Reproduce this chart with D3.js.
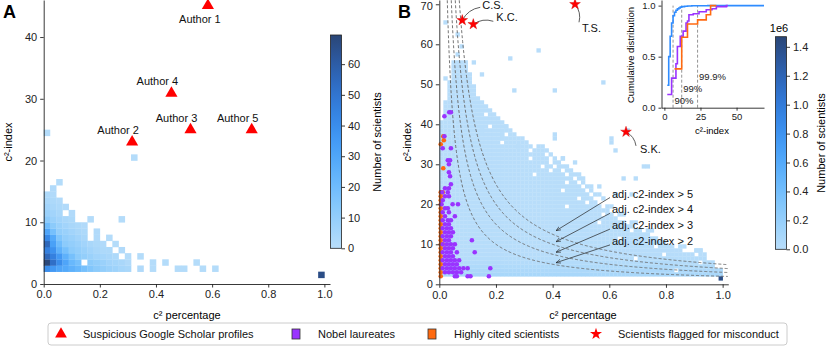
<!DOCTYPE html>
<html>
<head>
<meta charset="UTF-8">
<script src="https://cdn.jsdelivr.net/npm/d3@7"></script>
<style>
  body { margin: 0; background: #fff; }
  svg { font-family: "Liberation Sans", Arial, Helvetica, sans-serif; }
  .axis text { font-size: 11px; fill: #222; }
  .axis path, .axis line { stroke: #222; stroke-width: 0.9px; }
  .inset .axis text { font-size: 9.5px; }
</style>
</head>
<body>
<svg id="chart" width="831" height="348"></svg>
<script>
// ---------- data ----------
// panel A heatmap: [column (1/45 wide), c2-index row, count]
const cellsA = [
  [0,2,40],[0,3,68],[0,4,55],[0,5,45],[0,6,55],[0,7,42],[0,8,30],[0,9,20],[0,10,12],[0,11,8],[0,12,6],[0,13,4],[0,14,3],[0,24,1],
  [1,2,35],[1,3,52],[1,4,45],[1,5,38],[1,6,32],[1,7,28],[1,8,18],[1,9,12],[1,10,8],[1,11,6],[1,12,4],[1,13,3],[1,14,2],[1,15,2],
  [2,2,30],[2,3,40],[2,4,35],[2,5,25],[2,6,20],[2,7,15],[2,8,10],[2,9,8],[2,10,6],[2,11,4],[2,12,3],[2,13,2],[2,16,1],
  [3,2,28],[3,3,30],[3,4,25],[3,5,18],[3,6,12],[3,7,10],[3,8,8],[3,9,6],[3,10,4],[3,12,2],
  [4,2,25],[4,3,22],[4,4,18],[4,5,12],[4,6,10],[4,7,8],[4,8,6],[4,9,4],[4,10,3],[4,11,2],
  [5,2,22],[5,3,18],[5,4,12],[5,5,10],[5,6,8],[5,7,6],[5,8,4],[5,9,3],
  [6,2,18],[6,4,10],[6,5,8],[6,6,6],[6,7,4],[6,8,3],[6,9,2],
  [7,2,15],[7,3,12],[7,4,8],[7,5,6],[7,6,4],[7,10,1],
  [8,2,12],[8,3,10],[8,4,6],[8,5,4],[8,6,3],[8,7,2],[8,8,2],
  [9,2,10],[9,3,8],[9,4,5],[9,5,3],[9,6,2],
  [10,2,8],[10,3,6],[10,4,4],[10,5,3],[10,7,1],
  [11,2,7],[11,3,5],[11,4,3],[11,6,1],
  [12,2,5],[12,3,4],[12,5,2],[12,10,1],
  [13,2,4],[13,3,2],[13,4,1],
  [14,20,1],[15,2,2],[15,4,1],[17,2,1],[17,3,1],[19,3,1],[21,2,1],[22,2,1],[24,3,1],[25,2,1],[27,2,1],
  [44,1,66]
];
// suspicious Google Scholar profiles: [name, c2 percentage, c2-index]
const authors = [
  ["Author 1", 0.585, 45.1],
  ["Author 2", 0.315, 23.0],
  ["Author 3", 0.523, 25.0],
  ["Author 4", 0.455, 30.9],
  ["Author 5", 0.741, 25.0]
];

// panel B heatmap: runs of filled cells [c2-index row, first column, last column, count] (1/70 wide columns)
const runsB = [
  [2,0,69,9e4],[3,0,69,7e4],[4,0,67,5e4],[5,0,67,3e4],[6,0,65,2e4],[7,0,62,1e4],[7,64,65,2e3],
  [8,0,59,8e3],[8,63,64,1e3],[9,0,57,6e3],[9,59,60,1e3],[10,0,55,5e3],[11,0,53,4e3],[12,0,51,3e3],
  [13,0,49,3e3],[13,51,52,1e3],[14,0,47,2e3],[15,0,45,2e3],[15,47,48,1e3],[16,0,43,2e3],[17,0,42,2e3],
  [17,44,45,1e3],[18,0,41,2e3],[19,0,39,2e3],[19,41,42,1e3],[20,0,38,2e3],[21,0,37,2e3],[21,40,40,1e3],
  [22,0,36,1e3],[22,38,39,1e3],[23,0,35,1e3],[23,37,37,1e3],[24,0,34,1e3],[24,36,37,1e3],[25,0,33,1e3],
  [25,35,35,1e3],[26,0,32,1e3],[26,34,35,1e3],[27,0,30,1e3],[27,32,33,1e3],[28,0,29,1e3],[28,31,32,1e3],
  [29,0,27,1e3],[29,29,31,1e3],[29,50,51,1e3],[30,0,26,1e3],[30,28,29,1e3],[30,33,33,1e3],[31,0,26,1e3],
  [31,28,28,1e3],[31,30,30,1e3],[32,0,25,1e3],[32,27,27,1e3],[33,0,24,1e3],[33,25,26,1e3],[34,0,22,1e3],
  [34,24,25,1e3],[35,0,21,1e3],[36,0,20,1e3],[37,0,18,1e3],[38,0,17,1e3],[39,0,16,1e3],[40,0,15,1e3],
  [41,1,14,1e3],[42,1,13,1e3],[43,1,12,1e3],[44,1,11,1e3],[45,1,10,1e3],[46,2,9,1e3],[47,2,8,1e3],
  [48,2,8,1e3],[49,2,8,1e3],[50,2,7,1e3],[51,3,7,1e3],[52,3,7,1e3],[53,3,6,1e3],[54,3,6,1e3],[55,3,6,1e3],
  [1,69,69,1.4e6]
];
// isolated cells in panel B: [column, c2-index row]
const singlesB = [
  [1,65],[4,62],[5,59],[4,57],[8,55],[10,52],[1,51],[17,56],[24,58],[18,48],[28,48],[40,50],
  [10,38],[15,36],[15,37],[18,36],[19,34],[28,36],[28,37],[16,39],[42,36],[43,33],[42,35],[46,38],
  [30,31],[34,27],[39,24],[45,26],[48,26],[43,22],[47,22],[63,8],[64,8]
];
// empty cells inside the filled runs of panel B: [column, c2-index row]
const holesB = [
  [64,5],[58,3],[55,7],[48,6],[53,9],[44,11],[47,13],[39,15],[40,17],[31,19],[36,20],[34,21],
  [30,23],[31,25],[23,27],[27,28],[25,29],[22,31],[22,33],[15,35],[18,36],[16,37],[12,39],[11,42]
];
// Nobel laureates: [c2 percentage, c2-index]
const nobelPoints = [
  [0.035,43],[0.041,43],[0.018,42],[0.018,37],[0.012,34],[0.041,34],[0.03,31],[0.038,31],[0.034,30],
  [0.034,28],[0.038,27],[0.041,25],[0.02,24],[0.034,24],[0.01,23],[0.03,23],[0.02,22],[0.034,22],
  [0.012,21],[0.008,20],[0.047,20],[0.066,20],[0.02,19],[0.03,19],[0.012,18],[0.034,18],[0.02,17],
  [0.055,17],[0.012,16],[0.03,16],[0.041,16],[0.02,15],[0.034,15],[0.012,14],[0.027,14],[0.041,14],
  [0.02,13],[0.034,13],[0.048,13],[0.012,12],[0.027,12],[0.041,12],[0.02,11],[0.034,11],[0.115,11],
  [0.012,10],[0.027,10],[0.041,10],[0.055,10],[0.02,9],[0.034,9],[0.048,9],[0.012,8],[0.027,8],
  [0.041,8],[0.062,8],[0.125,8],[0.02,7],[0.034,7],[0.048,7],[0.012,6],[0.027,6],[0.041,6],[0.055,6],
  [0.07,6],[0.02,5],[0.034,5],[0.048,5],[0.062,5],[0.012,4],[0.027,4],[0.041,4],[0.055,4],[0.07,4],
  [0.085,4],[0.1,4],[0.18,4],[0.02,3],[0.034,3],[0.048,3],[0.062,3],[0.077,3],[0.055,2],[0.062,2],
  [0.1,2],[0.11,2],[0.175,2]
];
// highly cited scientists: [c2 percentage, c2-index]
const highlyCited = [
  [0.014,37],[0.016,36],[0.005,35],[0.014,29],[0.005,23],[0.012,23],[0.005,22],[0.005,21],[0.005,20],
  [0.005,19],[0.005,18],[0.005,17],[0.005,16],[0.005,15],[0.005,14],[0.005,13],[0.005,12],[0.005,11],
  [0.005,10],[0.012,10],[0.005,9],[0.005,8],[0.005,7],[0.005,6],[0.005,5],[0.005,4],[0.005,3],[0.005,2]
];
// flagged for misconduct: [initials, c2 percentage, c2-index]
const misconduct = [
  ["C.S.", 0.081, 66],
  ["K.C.", 0.12, 65],
  ["T.S.", 0.479, 70],
  ["S.K.", 0.659, 38.1]
];
// adjusted c2-index thresholds and where their arrows point
const adjThresholds = [5, 4, 3, 2];
const arrowX = 0.412;
const arrowY = [13.4, 10.65, 8, 5.4];

// inset: cumulative distributions [c2-index, share]
const cumAll = [[2,0.22],[3,0.5],[4,0.7],[5,0.83],[6,0.9],[7,0.935],[8,0.955],[9,0.968],[10,0.977],
  [11,0.985],[12,0.99],[14,0.994],[16,0.996],[19,0.998],[23,0.999],[30,1],[69,1]];
const cumNobel = [[2,0.13],[5,0.29],[8,0.43],[9,0.6],[11,0.7],[13,0.75],[15,0.83],[16,0.85],[17,0.91],
  [20,0.92],[24,0.94],[29,0.96],[33,0.97],[36,0.99],[43,1],[44,1]];
const cumCited = [[7,0.38],[12,0.69],[16,0.82],[23,0.86],[29,0.91],[32,1],[36,1]];
const percentiles = [6, 12, 23];
const percentileLabels = ["90%", "99%", "99.9%"];

const legendItems = ["Suspicious Google Scholar profiles", "Nobel laureates", "Highly cited scientists", "Scientists flagged for misconduct"];

// ---------- drawing ----------
const svg = d3.select("#chart");
svg.append("rect").attr("width", 831).attr("height", 348).attr("fill", "#fff");

const RED = "#ff0000", PURPLE = "#9a33ff", ORANGE = "#ff6a10", BLUE = "#2f8cff";
const cmap = d3.interpolateRgbBasis(["#b8ddfa", "#78c4fc", "#3c9bfc", "#2e6fd0", "#2a4676"]);

function axes(g, x, y, xticks, yticks, xfmt, yfmt, size) {
  g.append("g").attr("class", "axis").attr("transform", `translate(0,${y.range()[0]})`)
    .call(d3.axisBottom(x).tickValues(xticks).tickFormat(xfmt).tickSize(size).tickSizeOuter(0).tickPadding(3));
  g.append("g").attr("class", "axis").attr("transform", `translate(${x.range()[0]},0)`)
    .call(d3.axisLeft(y).tickValues(yticks).tickFormat(yfmt).tickSize(size).tickSizeOuter(0).tickPadding(3));
}

function colorbar(id, x0, y0, y1, domain, ticks, fmt) {
  const grad = svg.append("defs").append("linearGradient").attr("id", id)
    .attr("x1", 0).attr("x2", 0).attr("y1", 1).attr("y2", 0);
  d3.range(0, 1.001, 0.05).forEach(t => grad.append("stop").attr("offset", t).attr("stop-color", cmap(t)));
  svg.append("rect").attr("x", x0).attr("y", y0).attr("width", 11).attr("height", y1 - y0)
    .attr("fill", `url(#${id})`).attr("stroke", "#222").attr("stroke-width", 0.8);
  const s = d3.scaleLinear().domain(domain).range([y1, y0]);
  svg.append("g").attr("class", "axis").attr("transform", `translate(${x0 + 11},0)`)
    .call(d3.axisRight(s).tickValues(ticks).tickFormat(fmt).tickSize(3.5).tickSizeOuter(0).tickPadding(3))
    .select(".domain").remove();
}

// ----- panel A -----
const gA = svg.append("g");
const xA = d3.scaleLinear().domain([0, 1.02]).range([43.7, 330]);
const yA = d3.scaleLinear().domain([0, 46]).range([284, 0]);
const colA = d3.scaleSequential(cmap).domain([0, 69]);
const wA = 1 / 45;

gA.selectAll("rect.cell").data(cellsA).join("rect").attr("class", "cell")
  .attr("x", d => xA(d[0] * wA)).attr("y", d => yA(d[1] + 1))
  .attr("width", xA(wA) - xA(0) + 0.3).attr("height", yA(0) - yA(1) + 0.3)
  .attr("fill", d => colA(d[2]));

axes(gA, xA, yA, [0, 0.2, 0.4, 0.6, 0.8, 1.0], [0, 10, 20, 30, 40], d3.format(".1f"), d3.format("d"), 3.5);

gA.selectAll("path.author").data(authors).join("path").attr("class", "author")
  .attr("d", d3.symbol(d3.symbolTriangle, 64))
  .attr("transform", d => `translate(${xA(d[1])},${yA(d[2])})`)
  .attr("fill", RED);
gA.selectAll("text.author").data(authors).join("text").attr("class", "author")
  .attr("x", (d, i) => xA(d[1]) + (i === 0 ? -8 : -14))
  .attr("y", (d, i) => yA(d[2]) + (i === 0 ? 17 : -8))
  .attr("text-anchor", "middle").attr("font-size", 11).attr("fill", "#111")
  .text(d => d[0]);

svg.append("text").attr("x", 3).attr("y", 18).attr("font-size", 18).attr("font-weight", "bold").text("A");
svg.append("text").attr("transform", "translate(12,142) rotate(-90)").attr("text-anchor", "middle")
  .attr("font-size", 11).text("c²-index");
svg.append("text").attr("x", 187).attr("y", 319).attr("text-anchor", "middle").attr("font-size", 11).text("c² percentage");

colorbar("cbA", 330.5, 35, 248.3, [0, 69.5], [0, 10, 20, 30, 40, 50, 60], d3.format("d"));
svg.append("text").attr("transform", "translate(381,142) rotate(-90)").attr("text-anchor", "middle")
  .attr("font-size", 11).text("Number of scientists");

// ----- panel B -----
const gB = svg.append("g");
const xB = d3.scaleLinear().domain([0, 1.02]).range([439.3, 728.3]);
const yB = d3.scaleLinear().domain([0, 71.07]).range([284.3, 0]);
const colB = d3.scaleSequential(cmap).domain([0, 1.47e6]);
const wB = 1 / 70;

const holeSet = new Set(holesB.map(h => h[0] + "," + h[1]));
const cellsB = [];
runsB.forEach(r => {
  for (let c = r[1]; c <= r[2]; c++) if (!holeSet.has(c + "," + r[0])) cellsB.push([c, r[0], r[3]]);
});
singlesB.forEach(s => cellsB.push([s[0], s[1], 500]));

gB.selectAll("rect.cell").data(cellsB).join("rect").attr("class", "cell")
  .attr("x", d => xB(d[0] * wB)).attr("y", d => yB(d[1] + 1))
  .attr("width", xB(wB) - xB(0) + 0.3).attr("height", yB(0) - yB(1) + 0.3)
  .attr("fill", d => colB(d[2]));

// iso-lines of adjusted c2-index (c2-index x percentage = threshold)
const adjLine = d3.line().x(d => xB(d[0])).y(d => yB(d[1]));
gB.selectAll("path.adj").data(adjThresholds).join("path").attr("class", "adj")
  .attr("d", k => adjLine(d3.range(k / 71, 1.02, 0.002).map(p => [p, k / p])))
  .attr("fill", "none").attr("stroke", "#666").attr("stroke-width", 0.9).attr("stroke-dasharray", "3,2");

gB.selectAll("circle.cited").data(highlyCited).join("circle").attr("class", "cited")
  .attr("cx", d => xB(d[0])).attr("cy", d => yB(d[1])).attr("r", 2.3).attr("fill", ORANGE);
gB.selectAll("circle.nobel").data(nobelPoints).join("circle").attr("class", "nobel")
  .attr("cx", d => xB(d[0])).attr("cy", d => yB(d[1])).attr("r", 2.3).attr("fill", PURPLE);

axes(gB, xB, yB, [0, 0.2, 0.4, 0.6, 0.8, 1.0], [0, 10, 20, 30, 40, 50, 60, 70], d3.format(".1f"), d3.format("d"), 3.5);
// keep the top tick label inside the picture
gB.selectAll(".axis text").filter(d => d === 70).attr("dy", "0.45em");

// arrows
const defs = svg.append("defs");
defs.append("marker").attr("id", "arr").attr("viewBox", "0 0 10 10").attr("refX", 10).attr("refY", 5)
  .attr("markerWidth", 7).attr("markerHeight", 7).attr("orient", "auto")
  .append("path").attr("d", "M0,1 L10,5 L0,9").attr("fill", "none").attr("stroke", "#222").attr("stroke-width", 1.2);

adjThresholds.forEach((k, i) => {
  const ty = 193.5 + i * 15.8;
  gB.append("line").attr("x1", 610).attr("y1", ty + 4).attr("x2", xB(arrowX)).attr("y2", yB(arrowY[i]))
    .attr("stroke", "#222").attr("stroke-width", 0.7).attr("marker-end", "url(#arr)");
  gB.append("text").attr("x", 612).attr("y", ty + 4).attr("font-size", 11).attr("fill", "#111")
    .text(`adj. c2-index > ${k}`);
});

// misconduct stars with labels
const starOff = { "C.S.": [20, -11, 18, -13], "K.C.": [23, -3, 20, -3], "T.S.": [7, 28, 4, 18], "S.K.": [14, 21, 10, 14] };
misconduct.forEach(m => {
  const sx = xB(m[1]), sy = yB(m[2]), o = starOff[m[0]];
  const ex = sx + o[2], ey = sy + o[3];
  gB.append("path").attr("d", `M${sx},${sy} Q${(sx + ex) / 2 + (ey - sy) * 0.25},${(sy + ey) / 2 - (ex - sx) * 0.25} ${ex},${ey}`)
    .attr("fill", "none").attr("stroke", "#333").attr("stroke-width", 0.8);
  gB.append("path").attr("d", d3.symbol(d3.symbolStar, 36)).attr("transform", `translate(${sx},${sy})`)
    .attr("fill", RED).attr("stroke", "#c00").attr("stroke-width", 0.4);
  gB.append("text").attr("x", sx + o[0]).attr("y", sy + o[1]).attr("font-size", 11).attr("fill", "#111").text(m[0]);
});

svg.append("text").attr("x", 398).attr("y", 18).attr("font-size", 18).attr("font-weight", "bold").text("B");
svg.append("text").attr("transform", "translate(411,142) rotate(-90)").attr("text-anchor", "middle")
  .attr("font-size", 11).text("c²-index");
svg.append("text").attr("x", 583).attr("y", 319).attr("text-anchor", "middle").attr("font-size", 11).text("c² percentage");

colorbar("cbB", 775.5, 36.7, 249.3, [0, 1.47e6], [0, 2e5, 4e5, 6e5, 8e5, 1e6, 1.2e6, 1.4e6], d => d3.format(".1f")(d / 1e6));
svg.append("text").attr("x", 779).attr("y", 32).attr("text-anchor", "middle").attr("font-size", 11).text("1e6");
svg.append("text").attr("transform", "translate(825,143) rotate(-90)").attr("text-anchor", "middle")
  .attr("font-size", 11).text("Number of scientists");

// ----- inset -----
const gI = svg.append("g").attr("class", "inset");
const xI = d3.scaleLinear().domain([-2, 69]).range([661.5, 764]);
const yI = d3.scaleLinear().domain([0, 1.055]).range([107.7, 0]);
gI.append("rect").attr("x", 661.5).attr("y", 0).attr("width", 102.5).attr("height", 107.7).attr("fill", "#fff");

gI.selectAll("line.pct").data(percentiles).join("line").attr("class", "pct")
  .attr("x1", d => xI(d)).attr("x2", d => xI(d)).attr("y1", yI(0)).attr("y2", yI(1))
  .attr("stroke", "#888").attr("stroke-width", 0.9).attr("stroke-dasharray", "3,2");
const pctY = [104, 92, 80];
gI.selectAll("text.pct").data(percentiles).join("text").attr("class", "pct")
  .attr("x", d => xI(d) + 1.5).attr("y", (d, i) => pctY[i]).attr("font-size", 9.5).attr("fill", "#222")
  .text((d, i) => percentileLabels[i]);

const stepLine = d3.line().x(d => xI(d[0])).y(d => yI(d[1])).curve(d3.curveStepAfter);
[[cumAll, BLUE], [cumNobel, PURPLE], [cumCited, ORANGE]].forEach(s => {
  gI.append("path").attr("d", stepLine(s[0])).attr("fill", "none").attr("stroke", s[1]).attr("stroke-width", 1.6);
});

axes(gI, xI, yI, [0, 25, 50], [0, 0.5, 1.0], d3.format("d"), d3.format(".1f"), 3);
svg.append("text").attr("transform", "translate(634,55) rotate(-90)").attr("text-anchor", "middle")
  .attr("font-size", 9.5).text("Cumulative distribution");
svg.append("text").attr("x", 712).attr("y", 134).attr("text-anchor", "middle").attr("font-size", 9.5).text("c²-index");

// ----- legend -----
const gL = svg.append("g");
gL.append("rect").attr("x", 48).attr("y", 323).attr("width", 739).attr("height", 22).attr("rx", 3)
  .attr("fill", "#fff").attr("stroke", "#ccc").attr("stroke-width", 1);
const legX = [61, 296, 432, 596];
legendItems.forEach((t, i) => {
  const cx = legX[i], cy = 334;
  if (i === 0) gL.append("path").attr("d", d3.symbol(d3.symbolTriangle, 60)).attr("transform", `translate(${cx},${cy})`).attr("fill", RED);
  if (i === 1 || i === 2) gL.append("rect").attr("x", cx - 4).attr("y", cy - 5).attr("width", 8).attr("height", 10)
    .attr("fill", i === 1 ? PURPLE : ORANGE).attr("stroke", "#333").attr("stroke-width", 0.8);
  if (i === 3) gL.append("path").attr("d", d3.symbol(d3.symbolStar, 45)).attr("transform", `translate(${cx},${cy})`).attr("fill", RED);
  gL.append("text").attr("x", cx + 22).attr("y", cy + 4).attr("font-size", 11).attr("fill", "#111").text(t);
});
</script>
</body>
</html>
